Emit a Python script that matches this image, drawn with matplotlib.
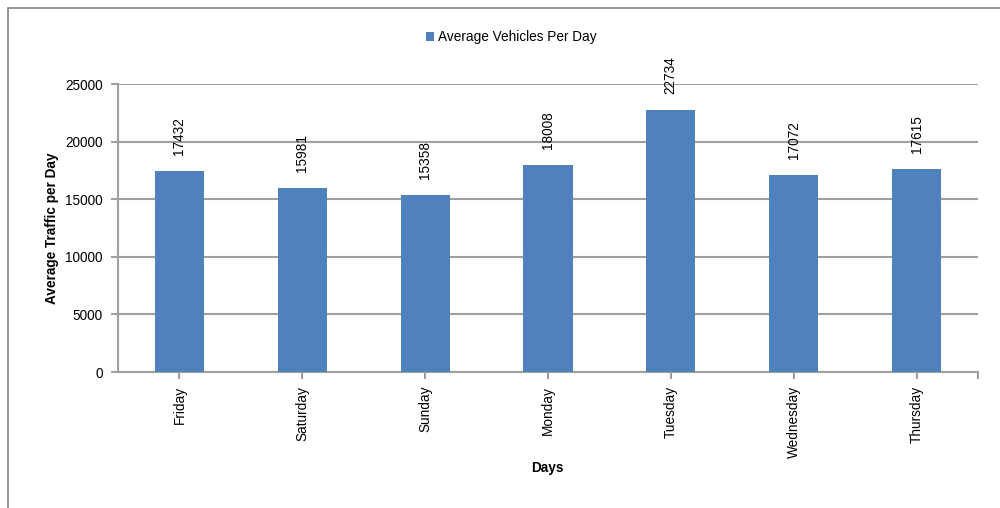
import numpy as np
import matplotlib.pyplot as plt
from matplotlib.patches import Rectangle

days = ["Friday", "Saturday", "Sunday", "Monday", "Tuesday", "Wednesday", "Thursday"]
vehicles = [17432, 15981, 15358, 18008, 22734, 17072, 17615]
y_ticks = [0, 5000, 10000, 15000, 20000, 25000]

plt.rcParams['font.family'] = ['Liberation Sans', 'DejaVu Sans']
fs = 9.8

bar_color = "#4F81BD"
grid_color = "#A0A0A0"

fig = plt.figure(figsize=(10, 5.08), dpi=100)
ax = fig.add_axes([0.118, 1 - 372 / 508, 0.86, 288 / 508])

x = np.arange(len(days))
bars = ax.bar(x, vehicles, width=0.4, color=bar_color, zorder=3,
              label="Average Vehicles Per Day")

# value labels above each bar
for xi, v in zip(x, vehicles):
    ax.annotate(str(v), (xi, v), xytext=(0, 11.5), textcoords="offset points",
                rotation=90, ha="center", va="bottom", fontsize=fs)

ax.set_xlim(-0.5, len(days) - 0.5)
ax.set_ylim(0, 25000)
ax.set_yticks(y_ticks)
ax.set_xticks(x)
ax.set_xticklabels(days, rotation=90, fontsize=fs)
ax.set_xticks([len(days) - 0.5], minor=True)
ax.tick_params(axis="y", labelsize=fs, length=5, color=grid_color, width=1.5, pad=6)
ax.tick_params(axis="x", which="both", length=5, color=grid_color, width=1.5, pad=5)

ax.grid(axis="y", color=grid_color, linewidth=1.5, zorder=0)
for s in ["top", "right"]:
    ax.spines[s].set_visible(False)
for s in ["left", "bottom"]:
    ax.spines[s].set_color(grid_color)
    ax.spines[s].set_linewidth(1.5)

ax.set_ylabel("Average Traffic per Day", fontsize=fs, fontweight="bold")
ax.yaxis.set_label_coords(-(118 - 59) / 860, 0.5)
fig.text(547 / 1000, 1 - 468 / 508, "Days", fontsize=fs, fontweight="bold",
         ha="center", va="center")

fig.legend(handles=[bars], loc="center", bbox_to_anchor=(0.511, 1 - 37 / 508),
           frameon=False, fontsize=fs, handlelength=0.6, handleheight=0.6,
           handletextpad=0.3)

# outer chart border
fig.patches.append(Rectangle((8 / 1000, -0.1), 1.5, 1 - 8 / 508 + 0.1,
                             transform=fig.transFigure, fill=False,
                             edgecolor="#808080", linewidth=1.2))

fig.savefig("out.png", dpi=100)
